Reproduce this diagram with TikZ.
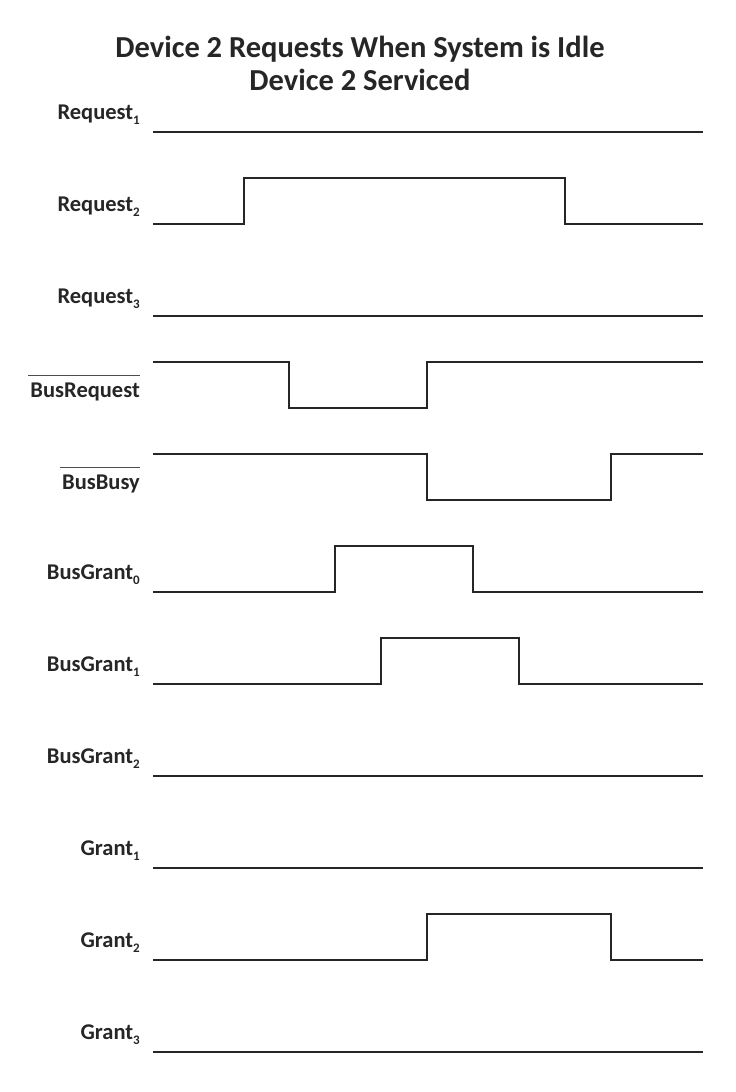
\documentclass[tikz,border=0pt]{standalone}
\usepackage{fontspec}
\setmainfont{Carlito}

\newcommand{\sigsub}[1]{\raisebox{-5pt}{\fontsize{13}{13}\selectfont #1}}

\tikzset{
  signal/.style={line width=2.6pt,black!85},
  siglabel/.style={anchor=base east,inner sep=0pt,font=\fontsize{22.5}{26}\selectfont\bfseries,text=black!85},
  barline/.style={line width=1.2pt,black!70}
}

\begin{document}
\begin{tikzpicture}[x=1pt,y=-1pt]
  \useasboundingbox (0,0) rectangle (736,1092);

  \node (TITLE) at (360,63) [align=center,font=\fontsize{30.5}{33}\selectfont\bfseries,text=black!85]
    {Device 2 Requests When System is Idle\\Device 2 Serviced};

  % signal names
  \node (REQ1) at (140,119) [siglabel] {Request\sigsub{1}};
  \node (REQ2) at (140,211) [siglabel] {Request\sigsub{2}};
  \node (REQ3) at (140,303) [siglabel] {Request\sigsub{3}};
  \node (BREQ) at (140,397) [siglabel] {BusRequest};
  \node (BBSY) at (140,489) [siglabel] {BusBusy};
  \node (BGR0) at (140,579) [siglabel] {BusGrant\sigsub{0}};
  \node (BGR1) at (140,671) [siglabel] {BusGrant\sigsub{1}};
  \node (BGR2) at (140,763) [siglabel] {BusGrant\sigsub{2}};
  \node (GNT1) at (140,855) [siglabel] {Grant\sigsub{1}};
  \node (GNT2) at (140,947) [siglabel] {Grant\sigsub{2}};
  \node (GNT3) at (140,1039) [siglabel] {Grant\sigsub{3}};

  % active low bars
  \draw[barline] ([xshift=-2pt,yshift=6.5pt]BREQ.north west) -- ([yshift=6.5pt]BREQ.north east);
  \draw[barline] ([xshift=-2pt,yshift=6.5pt]BBSY.north west) -- ([yshift=6.5pt]BBSY.north east);

  % waveforms
  \draw[signal] (153,132) -- (703,132);
  \draw[signal] (153,224) -- (244,224) -- (244,178) -- (565,178) -- (565,224) -- (703,224);
  \draw[signal] (153,316) -- (703,316);
  \draw[signal] (153,362) -- (289,362) -- (289,408) -- (427,408) -- (427,362) -- (703,362);
  \draw[signal] (153,454) -- (427,454) -- (427,500) -- (611,500) -- (611,454) -- (703,454);
  \draw[signal] (153,592) -- (335,592) -- (335,546) -- (473,546) -- (473,592) -- (703,592);
  \draw[signal] (153,684) -- (381,684) -- (381,638) -- (519,638) -- (519,684) -- (703,684);
  \draw[signal] (153,776) -- (703,776);
  \draw[signal] (153,868) -- (703,868);
  \draw[signal] (153,960) -- (427,960) -- (427,914) -- (611,914) -- (611,960) -- (703,960);
  \draw[signal] (153,1052) -- (703,1052);

\end{tikzpicture}
\end{document}
